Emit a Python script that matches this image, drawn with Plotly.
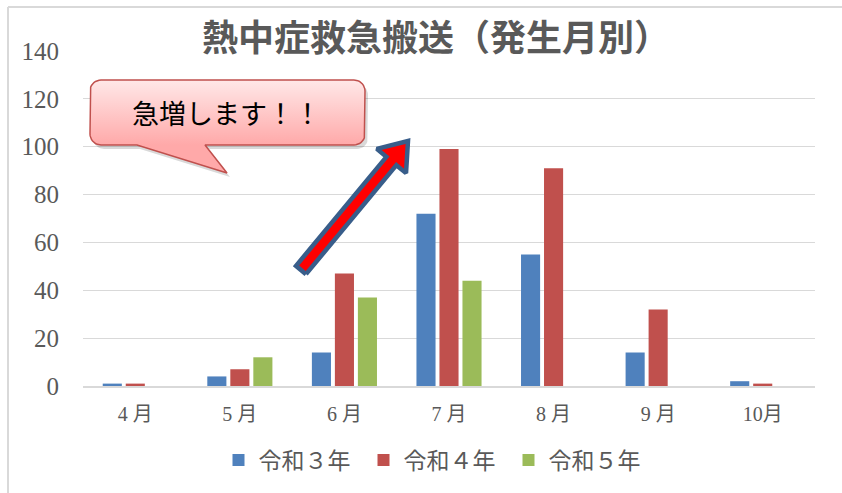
import numpy as np
import plotly.graph_objects as go

months = ["4 月", "5 月", "6 月", "7 月", "8 月", "9 月", "10月"]
series_names = ["令和３年", "令和４年", "令和５年"]
r3 = [1, 4, 14, 72, 55, 14, 2]
r4 = [1, 7, 47, 99, 91, 32, 1]
r5 = [None, 12, 37, 44, None, None, None]
colors = ["#4F81BD", "#C0504D", "#9BBB59"]

W, H = 842, 493
L, R, T, B = 83, 815, 51, 386  # plot area in pixels

fig = go.Figure()
for name, vals, c in zip(series_names, [r3, r4, r5], colors):
    fig.add_trace(go.Bar(x=months, y=vals, name=name, marker=dict(color=c, line=dict(width=0)),
                         hoverinfo="skip"))

# ---- callout (pixel overlay axes) ----
def rounded_callout(x0, y0, x1, y1, r, tail):
    pts = []
    def arc(cx, cy, a0, a1):
        t = np.radians(np.linspace(a0, a1, 10))
        return list(zip(cx + r * np.cos(t), cy + r * np.sin(t)))
    pts += arc(x1 - r, y0 + r, -90, 0)
    pts += arc(x1 - r, y1 - r, 0, 90)
    (tx_r, tip, tx_l) = tail
    pts += [(tx_r, y1), tip, (tx_l, y1)]
    pts += arc(x0 + r, y1 - r, 90, 180)
    pts += arc(x0 + r, y0 + r, 180, 270)
    pts.append(pts[0])
    xs, ys = zip(*pts)
    return list(xs), list(ys)

cx, cy = rounded_callout(90, 80, 365, 145, 11, (205, (227, 173), 137))
fig.add_trace(go.Scatter(x=[v + 3 for v in cx], y=[v + 4 for v in cy], xaxis="x2", yaxis="y2",
                         mode="lines", fill="toself", fillcolor="rgba(0,0,0,0.15)",
                         line=dict(width=0), showlegend=False, hoverinfo="skip"))
fig.add_trace(go.Scatter(x=cx, y=cy, xaxis="x2", yaxis="y2", mode="lines", fill="toself",
                         fillgradient=dict(type="vertical", start=80, stop=145,
                                           colorscale=[[0, "#FFE8E8"], [1, "#FFA9A9"]]),
                         line=dict(color="#C0504D", width=1.5), showlegend=False, hoverinfo="skip"))

# ---- arrow ----
tail_pt = np.array([301.0, 270.0])
tip_pt = np.array([408.0, 141.0])
d = tip_pt - tail_pt
u = d / np.linalg.norm(d)
n = np.array([-u[1], u[0]])
hl, hw, sw = 26.0, 19.0, 6.5
base = tip_pt - u * hl
poly = [tail_pt + n * sw, base + n * sw, base + n * hw, tip_pt,
        base - n * hw, base - n * sw, tail_pt - n * sw, tail_pt + n * sw]
ax_, ay_ = zip(*poly)
fig.add_trace(go.Scatter(x=list(ax_), y=list(ay_), xaxis="x2", yaxis="y2", mode="lines",
                         fill="toself", fillcolor="#FF0000",
                         line=dict(color="#385D8A", width=4.5), showlegend=False, hoverinfo="skip"))

fig.add_annotation(x=226, y=112, xref="x2", yref="y2", text="急増します！！", showarrow=False,
                   font=dict(family="Noto Sans CJK JP", size=27, color="#000000"))

fig.update_layout(
    width=W, height=H,
    margin=dict(l=L, r=W - R, t=T, b=H - B, pad=0),
    paper_bgcolor="white", plot_bgcolor="white",
    barmode="group", bargap=0.34, bargroupgap=0.17,
    title=dict(text="<b>熱中症救急搬送（発生月別）</b>", x=436 / W, xref="container", xanchor="center",
               y=1 - 38 / H, yref="container", yanchor="middle",
               font=dict(family="Noto Sans CJK JP", size=36, color="#595959")),
    xaxis=dict(type="category", showgrid=False, showline=True, linecolor="#D9D9D9", linewidth=2,
               ticks="", tickfont=dict(family="Liberation Serif, Noto Sans CJK JP", size=20, color="#595959"),
               ticklabelstandoff=9),
    yaxis=dict(range=[0, 140], dtick=20, showgrid=True, gridcolor="#D9D9D9", gridwidth=1,
               zeroline=False, ticks="", tickfont=dict(family="Liberation Serif", size=25, color="#595959"),
               ticklabelstandoff=23),
    xaxis2=dict(overlaying="x", anchor="y2", range=[L, R], visible=False, fixedrange=True),
    yaxis2=dict(overlaying="y", anchor="x2", range=[B, T], visible=False, fixedrange=True),
    legend=dict(orientation="h", x=(436 - L) / (R - L), xanchor="center", y=(B - 460) / (B - T),
                yanchor="middle", entrywidth=100, entrywidthmode="pixels",
                font=dict(family="Liberation Serif, Noto Sans CJK JP", size=23, color="#595959"),
                traceorder="normal"),
    showlegend=True,
)

# frame lines (top / left)
fig.add_shape(type="line", xref="paper", yref="paper", x0=(8 - L) / (R - L), x1=(W + 5 - L) / (R - L),
              y0=(B - 7) / (B - T), y1=(B - 7) / (B - T), line=dict(color="#D9D9D9", width=2))
fig.add_shape(type="line", xref="paper", yref="paper", x0=(8 - L) / (R - L), x1=(8 - L) / (R - L),
              y0=(B - 7) / (B - T), y1=(B - H - 5) / (B - T), line=dict(color="#D9D9D9", width=2))

fig.write_html("out.html", config={"displayModeBar": False},
               post_script="document.body.style.margin='0px';")
